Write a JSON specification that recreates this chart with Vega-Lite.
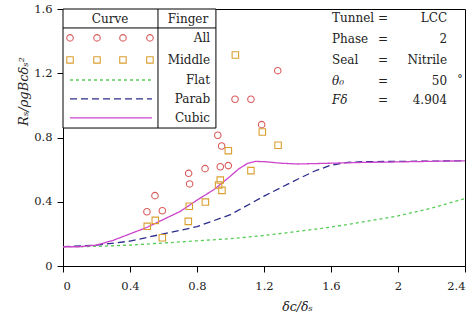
{
  "$schema": "https://vega.github.io/schema/vega-lite/v6.json",
  "width": 402,
  "height": 257,
  "autosize": {"type": "none"},
  "padding": {"left": 63, "top": 9, "right": 8, "bottom": 59},
  "background": "white",
  "config": {
    "view": {"stroke": "black", "strokeWidth": 1},
    "font": "DejaVu Serif",
    "axis": {"grid": false, "domainColor": "black", "tickColor": "black", "labelColor": "#222", "labelFont": "DejaVu Serif", "labelFontSize": 11.5, "titleFont": "DejaVu Serif", "titleFontWeight": "normal", "titleColor": "#222", "tickSize": 6, "format": "~g"}
  },
  "datasets": {
    "pts": [
      {"x": 1.186, "y": 0.880, "s": "All"}, {"x": 0.924, "y": 0.814, "s": "All"}, {"x": 0.947, "y": 0.747, "s": "All"},
      {"x": 0.939, "y": 0.618, "s": "All"}, {"x": 0.987, "y": 0.625, "s": "All"}, {"x": 0.848, "y": 0.606, "s": "All"},
      {"x": 0.750, "y": 0.577, "s": "All"}, {"x": 0.756, "y": 0.511, "s": "All"}, {"x": 0.549, "y": 0.438, "s": "All"},
      {"x": 0.501, "y": 0.338, "s": "All"}, {"x": 0.593, "y": 0.344, "s": "All"}, {"x": 1.282, "y": 1.216, "s": "All"},
      {"x": 1.027, "y": 1.038, "s": "All"}, {"x": 1.122, "y": 1.038, "s": "All"},
      {"x": 1.029, "y": 1.314, "s": "Middle"}, {"x": 1.190, "y": 0.834, "s": "Middle"}, {"x": 1.284, "y": 0.752, "s": "Middle"},
      {"x": 0.987, "y": 0.718, "s": "Middle"}, {"x": 1.122, "y": 0.594, "s": "Middle"}, {"x": 0.939, "y": 0.535, "s": "Middle"},
      {"x": 0.929, "y": 0.504, "s": "Middle"}, {"x": 0.949, "y": 0.471, "s": "Middle"}, {"x": 0.850, "y": 0.398, "s": "Middle"},
      {"x": 0.754, "y": 0.372, "s": "Middle"}, {"x": 0.748, "y": 0.278, "s": "Middle"}, {"x": 0.551, "y": 0.284, "s": "Middle"},
      {"x": 0.503, "y": 0.247, "s": "Middle"}, {"x": 0.593, "y": 0.176, "s": "Middle"}
    ],
    "legpts": [
      {"x": 0.042, "y": 1.42, "s": "All"}, {"x": 0.203, "y": 1.42, "s": "All"}, {"x": 0.358, "y": 1.42, "s": "All"}, {"x": 0.519, "y": 1.42, "s": "All"},
      {"x": 0.042, "y": 1.283, "s": "Middle"}, {"x": 0.203, "y": 1.283, "s": "Middle"}, {"x": 0.358, "y": 1.283, "s": "Middle"}, {"x": 0.519, "y": 1.283, "s": "Middle"}
    ],
    "curves": [
      {"x": 0, "y": 0.12, "c": "Flat"}, {"x": 0.2, "y": 0.122, "c": "Flat"}, {"x": 0.4, "y": 0.13, "c": "Flat"}, {"x": 0.6, "y": 0.143, "c": "Flat"},
      {"x": 0.8, "y": 0.157, "c": "Flat"}, {"x": 1.0, "y": 0.17, "c": "Flat"}, {"x": 1.2, "y": 0.19, "c": "Flat"}, {"x": 1.4, "y": 0.215, "c": "Flat"},
      {"x": 1.6, "y": 0.242, "c": "Flat"}, {"x": 1.8, "y": 0.276, "c": "Flat"}, {"x": 2.0, "y": 0.312, "c": "Flat"}, {"x": 2.2, "y": 0.36, "c": "Flat"},
      {"x": 2.4, "y": 0.42, "c": "Flat"},
      {"x": 0, "y": 0.12, "c": "Parab"}, {"x": 0.2, "y": 0.13, "c": "Parab"}, {"x": 0.4, "y": 0.155, "c": "Parab"}, {"x": 0.6, "y": 0.2, "c": "Parab"},
      {"x": 0.8, "y": 0.245, "c": "Parab"}, {"x": 1.0, "y": 0.32, "c": "Parab"}, {"x": 1.2, "y": 0.435, "c": "Parab"}, {"x": 1.4, "y": 0.54, "c": "Parab"},
      {"x": 1.5, "y": 0.59, "c": "Parab"}, {"x": 1.6, "y": 0.628, "c": "Parab"}, {"x": 1.7, "y": 0.645, "c": "Parab"}, {"x": 1.8, "y": 0.65, "c": "Parab"},
      {"x": 2.0, "y": 0.651, "c": "Parab"}, {"x": 2.4, "y": 0.655, "c": "Parab"},
      {"x": 0, "y": 0.12, "c": "Cubic"}, {"x": 0.1, "y": 0.12, "c": "Cubic"}, {"x": 0.2, "y": 0.13, "c": "Cubic"}, {"x": 0.3, "y": 0.16, "c": "Cubic"},
      {"x": 0.4, "y": 0.2, "c": "Cubic"}, {"x": 0.5, "y": 0.24, "c": "Cubic"}, {"x": 0.6, "y": 0.29, "c": "Cubic"}, {"x": 0.7, "y": 0.34, "c": "Cubic"},
      {"x": 0.8, "y": 0.41, "c": "Cubic"}, {"x": 0.9, "y": 0.475, "c": "Cubic"}, {"x": 1.0, "y": 0.56, "c": "Cubic"}, {"x": 1.05, "y": 0.605, "c": "Cubic"},
      {"x": 1.1, "y": 0.638, "c": "Cubic"}, {"x": 1.15, "y": 0.651, "c": "Cubic"}, {"x": 1.2, "y": 0.65, "c": "Cubic"}, {"x": 1.3, "y": 0.64, "c": "Cubic"},
      {"x": 1.4, "y": 0.635, "c": "Cubic"}, {"x": 1.6, "y": 0.64, "c": "Cubic"}, {"x": 1.8, "y": 0.645, "c": "Cubic"}, {"x": 2.0, "y": 0.648, "c": "Cubic"},
      {"x": 2.4, "y": 0.655, "c": "Cubic"}
    ],
    "leglines": [
      {"x": 0.042, "y": 1.158, "c": "Flat"}, {"x": 0.531, "y": 1.158, "c": "Flat"},
      {"x": 0.042, "y": 1.040, "c": "Parab"}, {"x": 0.531, "y": 1.040, "c": "Parab"},
      {"x": 0.042, "y": 0.922, "c": "Cubic"}, {"x": 0.531, "y": 0.922, "c": "Cubic"}
    ],
    "box": [{"x1": 0, "x2": 0.913, "y1": 0.859, "y2": 1.6}],
    "rules": [
      {"x1": 0, "x2": 0.913, "y1": 1.482, "y2": 1.482},
      {"x1": 0.567, "x2": 0.567, "y1": 0.859, "y2": 1.6}
    ],
    "heads": [{"x": 0.281, "y": 1.538, "t": "Curve"}, {"x": 0.746, "y": 1.538, "t": "Finger"}],
    "rowtext": [
      {"x": 0.878, "y": 1.420, "t": "All"}, {"x": 0.878, "y": 1.283, "t": "Middle"}, {"x": 0.878, "y": 1.158, "t": "Flat"},
      {"x": 0.878, "y": 1.040, "t": "Parab"}, {"x": 0.878, "y": 0.922, "t": "Cubic"}
    ],
    "info": [
      {"y": 1.544, "l": "Tunnel", "it": false, "v": "LCC"},
      {"y": 1.413, "l": "Phase", "it": false, "v": "2"},
      {"y": 1.283, "l": "Seal", "it": false, "v": "Nitrile"},
      {"y": 1.152, "l": "θ₀", "it": true, "v": "50"},
      {"y": 1.034, "l": "Fδ", "it": true, "v": "4.904"}
    ],
    "deg": [{"x": 2.37, "y": 1.16, "t": "°"}]
  },
  "layer": [
    {
      "data": {"name": "curves"},
      "mark": {"type": "line", "strokeWidth": 1.3, "clip": true},
      "encoding": {
        "x": {"field": "x", "type": "quantitative", "scale": {"domain": [0, 2.4], "nice": false}, "axis": {"values": [0, 0.4, 0.8, 1.2, 1.6, 2, 2.4], "labelPadding": 8, "title": "δᴄ/δₛ", "titleFontStyle": "italic", "titleFontSize": 12.5, "titleX": 234, "titleY": 40, "titleBaseline": "middle", "titleAnchor": "start", "titleAlign": "center"}},
        "y": {"field": "y", "type": "quantitative", "scale": {"domain": [0, 1.6], "nice": false}, "axis": {"values": [0, 0.4, 0.8, 1.2, 1.6], "labelPadding": 5, "title": "Rₛ/ρgBᴄδₛ²", "titleFontStyle": "italic", "titleFontSize": 13, "titleX": -40, "titleY": 82, "titleAnchor": "start", "titleAlign": "center", "titleBaseline": "middle"}},
        "color": {"field": "c", "type": "nominal", "scale": {"domain": ["All", "Middle", "Flat", "Parab", "Cubic"], "range": ["#d85a5a", "#d9a030", "#55cc55", "#2b2b8c", "#cc44cc"]}, "legend": null},
        "strokeDash": {"field": "c", "type": "nominal", "scale": {"domain": ["Flat", "Parab", "Cubic"], "range": [[3, 3], [7, 4], [1, 0]]}, "legend": null}
      }
    },
    {
      "data": {"name": "pts"},
      "mark": {"type": "point", "filled": false, "strokeWidth": 1.1, "size": 42, "opacity": 1},
      "encoding": {
        "x": {"field": "x", "type": "quantitative"},
        "y": {"field": "y", "type": "quantitative"},
        "shape": {"field": "s", "type": "nominal", "scale": {"domain": ["All", "Middle"], "range": ["circle", "square"]}, "legend": null},
        "color": {"field": "s", "type": "nominal", "legend": null}
      }
    },
    {
      "data": {"name": "box"},
      "mark": {"type": "rect", "fill": "white", "stroke": "black", "strokeWidth": 1},
      "encoding": {
        "x": {"field": "x1", "type": "quantitative"}, "x2": {"field": "x2"},
        "y": {"field": "y1", "type": "quantitative"}, "y2": {"field": "y2"}
      }
    },
    {
      "data": {"name": "rules"},
      "mark": {"type": "rule", "color": "black", "strokeWidth": 1},
      "encoding": {
        "x": {"field": "x1", "type": "quantitative"}, "x2": {"field": "x2"},
        "y": {"field": "y1", "type": "quantitative"}, "y2": {"field": "y2"}
      }
    },
    {
      "data": {"name": "legpts"},
      "mark": {"type": "point", "filled": false, "strokeWidth": 1.1, "size": 42, "opacity": 1},
      "encoding": {
        "x": {"field": "x", "type": "quantitative"},
        "y": {"field": "y", "type": "quantitative"},
        "shape": {"field": "s", "type": "nominal", "legend": null},
        "color": {"field": "s", "type": "nominal", "legend": null}
      }
    },
    {
      "data": {"name": "leglines"},
      "mark": {"type": "line", "strokeWidth": 1.3},
      "encoding": {
        "x": {"field": "x", "type": "quantitative"},
        "y": {"field": "y", "type": "quantitative"},
        "color": {"field": "c", "type": "nominal", "legend": null},
        "strokeDash": {"field": "c", "type": "nominal", "legend": null}
      }
    },
    {
      "data": {"name": "heads"},
      "mark": {"type": "text", "fontSize": 12, "color": "#222", "align": "center", "baseline": "middle"},
      "encoding": {"x": {"field": "x", "type": "quantitative"}, "y": {"field": "y", "type": "quantitative"}, "text": {"field": "t"}}
    },
    {
      "data": {"name": "rowtext"},
      "mark": {"type": "text", "fontSize": 12, "color": "#222", "align": "right", "baseline": "middle"},
      "encoding": {"x": {"field": "x", "type": "quantitative"}, "y": {"field": "y", "type": "quantitative"}, "text": {"field": "t"}}
    },
    {
      "data": {"name": "info"},
      "transform": [{"filter": "!datum.it"}, {"calculate": "1.606", "as": "lx"}],
      "mark": {"type": "text", "fontSize": 12, "color": "#222", "align": "left", "baseline": "middle"},
      "encoding": {"x": {"field": "lx", "type": "quantitative"}, "y": {"field": "y", "type": "quantitative"}, "text": {"field": "l"}}
    },
    {
      "data": {"name": "info"},
      "transform": [{"filter": "datum.it"}, {"calculate": "1.606", "as": "lx"}],
      "mark": {"type": "text", "fontSize": 12, "fontStyle": "italic", "color": "#222", "align": "left", "baseline": "middle"},
      "encoding": {"x": {"field": "lx", "type": "quantitative"}, "y": {"field": "y", "type": "quantitative"}, "text": {"field": "l"}}
    },
    {
      "data": {"name": "info"},
      "transform": [{"calculate": "1.91", "as": "ex"}, {"calculate": "'='", "as": "eq"}],
      "mark": {"type": "text", "fontSize": 12, "color": "#222", "align": "center", "baseline": "middle"},
      "encoding": {"x": {"field": "ex", "type": "quantitative"}, "y": {"field": "y", "type": "quantitative"}, "text": {"field": "eq"}}
    },
    {
      "data": {"name": "info"},
      "transform": [{"calculate": "2.293", "as": "vx"}],
      "mark": {"type": "text", "fontSize": 12, "color": "#222", "align": "right", "baseline": "middle"},
      "encoding": {"x": {"field": "vx", "type": "quantitative"}, "y": {"field": "y", "type": "quantitative"}, "text": {"field": "v"}}
    },
    {
      "data": {"name": "deg"},
      "mark": {"type": "text", "fontSize": 11, "color": "#222", "align": "center", "baseline": "middle"},
      "encoding": {"x": {"field": "x", "type": "quantitative"}, "y": {"field": "y", "type": "quantitative"}, "text": {"field": "t"}}
    }
  ]
}
